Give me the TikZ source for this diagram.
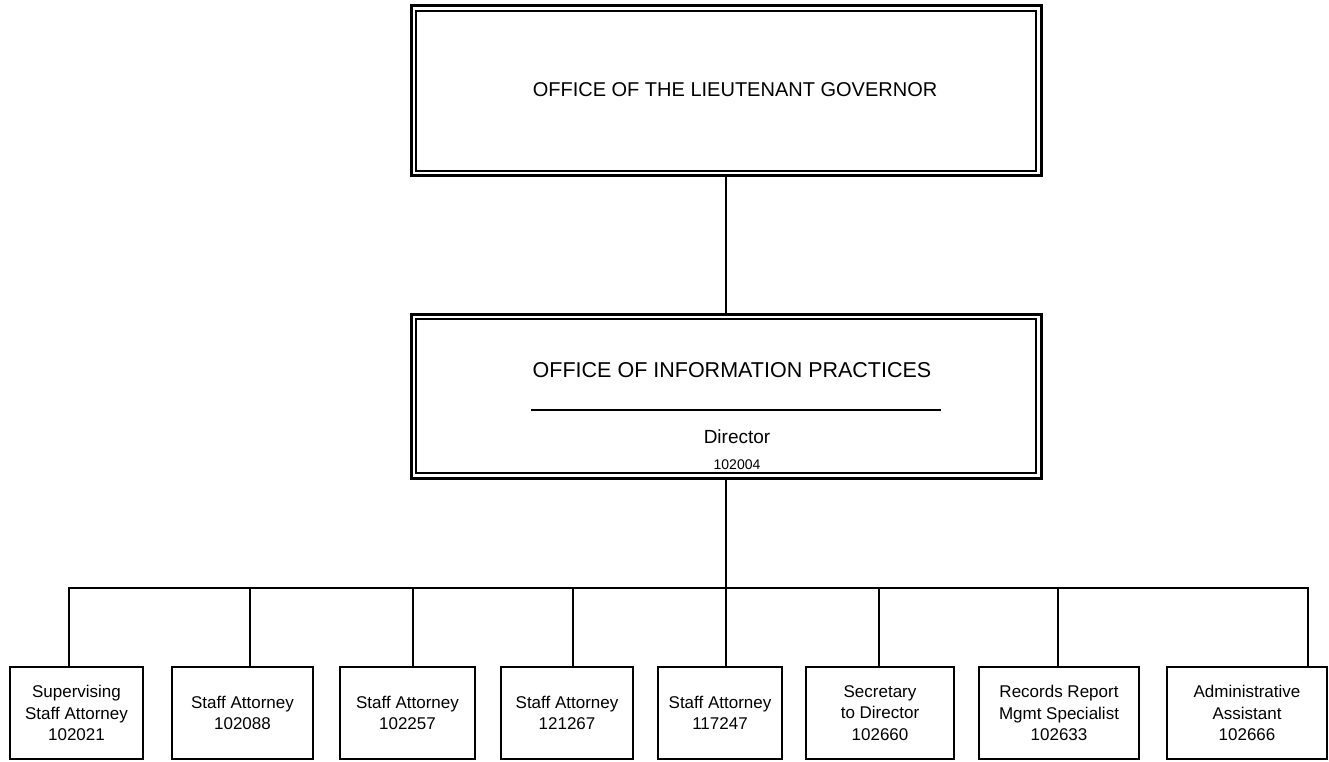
\documentclass[tikz,border=0pt]{standalone}
\usepackage{fontspec}
\setmainfont{Liberation Sans}
\begin{document}
\begin{tikzpicture}[x=1pt,y=-1pt,
  conn/.style={line width=2.2pt},
  bigframe/.style={draw, line width=3pt, inner sep=0pt, outer sep=0pt, minimum width=630pt},
  innerframe/.style={line width=1.5pt},
  posbox/.style={draw, line width=2.4pt, inner sep=0pt, outer sep=0pt, minimum height=92pt, align=center, font=\fontsize{17}{21.5}\selectfont},
  ]
\useasboundingbox (0,0) rectangle (1329,762);
\fill[white] (0,0) rectangle (1329,762);

% top boxes
\node[bigframe, minimum height=170pt] (lg) at (726,91) {};
\draw[innerframe] ([shift={(5pt,-5pt)}]lg.north west) rectangle ([shift={(-5pt,5pt)}]lg.south east);
\node[font=\fontsize{20}{24}\selectfont] (lgt) at (735,90) {OFFICE OF THE LIEUTENANT GOVERNOR};

\node[bigframe, minimum height=164pt] (oip) at (726,396) {};
\draw[innerframe] ([shift={(5pt,-5pt)}]oip.north west) rectangle ([shift={(-5pt,5pt)}]oip.south east);
\node[font=\fontsize{21.5}{26}\selectfont] (oipt) at (732,370) {OFFICE OF INFORMATION PRACTICES};
\coordinate (ruleL) at (531,410);
\coordinate (ruleR) at (941,410);
\draw[line width=1.3pt] (ruleL) -- (ruleR);
\node[font=\fontsize{19}{23}\selectfont] (dir) at (737,437) {Director};
\node[font=\fontsize{14}{17}\selectfont] (dirn) at (737,465) {102004};

% bottom boxes
\node[posbox, minimum width=133pt] (b1) at (76.5,713) {Supervising\\Staff Attorney\\102021};
\node[posbox, minimum width=141pt] (b2) at (242.5,713) {Staff Attorney\\102088};
\node[posbox, minimum width=135pt] (b3) at (407.5,713) {Staff Attorney\\102257};
\node[posbox, minimum width=132pt] (b4) at (567,713) {Staff Attorney\\121267};
\node[posbox, minimum width=124pt] (b5) at (720,713) {Staff Attorney\\117247};
\node[posbox, minimum width=148pt] (b6) at (880,713) {Secretary\\to Director\\102660};
\node[posbox, minimum width=160pt] (b7) at (1059,713) {Records Report\\Mgmt Specialist\\102633};
\node[posbox, minimum width=160pt] (b8) at (1247,713) {Administrative\\Assistant\\102666};

% connectors
\draw[conn] (lg.south) -- (oip.north);
\coordinate (bc) at (726,588);
\draw[conn] (oip.south) -- (bc);
\coordinate (d1) at (69,588);
\coordinate (d2) at (250,588);
\coordinate (d3) at (413,588);
\coordinate (d4) at (573,588);
\coordinate (d5) at (726,588);
\coordinate (d6) at (879,588);
\coordinate (d7) at (1058,588);
\coordinate (d8) at (1308,588);
\draw[conn, line cap=rect] (d1) -- (d8);
\foreach \i in {1,...,8} {
  \draw[conn] (d\i) -- (d\i |- b\i.north);
}
\end{tikzpicture}
\end{document}
